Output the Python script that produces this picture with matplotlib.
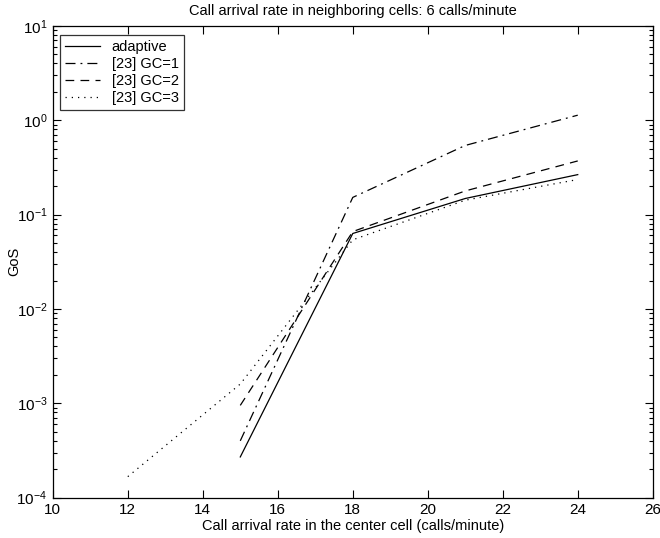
import numpy as np
import matplotlib
matplotlib.use('Agg')
import matplotlib.pyplot as plt

plt.rc('font', family='Liberation Sans', size=10)
plt.rc('mathtext', fontset='custom', rm='Liberation Sans', it='Liberation Sans:italic')

# GoS vs call arrival rate in the center cell
x_adaptive = [15, 18, 21, 24]
gos_adaptive = [2.7e-4, 0.063, 0.148, 0.265]

x_gc1 = [15, 18, 21, 24]
gos_gc1 = [4.0e-4, 0.152, 0.54, 1.13]

x_gc2 = [15, 18, 21, 24]
gos_gc2 = [9.5e-4, 0.066, 0.178, 0.37]

x_gc3 = [12, 15, 18, 21, 24]
gos_gc3 = [1.67e-4, 1.6e-3, 0.054, 0.142, 0.235]

fig = plt.figure(figsize=(6.6, 5.38), dpi=100)
ax = fig.add_axes([0.080, 0.075, 0.909, 0.877])

ax.plot(x_adaptive, gos_adaptive, '-', color='black', lw=0.9, label='adaptive')
ax.plot(x_gc1, gos_gc1, color='black', lw=0.9, dashes=(8, 4, 1.5, 4), label='[23] GC=1')
ax.plot(x_gc2, gos_gc2, color='black', lw=0.9, dashes=(7, 5), label='[23] GC=2')
ax.plot(x_gc3, gos_gc3, color='black', lw=0.9, dashes=(1, 4), label='[23] GC=3')

ax.set_yscale('log')
ax.set_xlim(10, 26)
ax.set_ylim(1e-4, 1e1)
ax.set_xticks(np.arange(10, 27, 2))
ax.tick_params(which='both', direction='in', top=True, right=True, width=0.8)
ax.tick_params(which='major', length=6, labelsize=11, pad=4)
ax.tick_params(which='minor', length=3)
for s in ax.spines.values():
    s.set_linewidth(0.9)

ax.set_xlabel('Call arrival rate in the center cell (calls/minute)', fontsize=10.5, labelpad=1)
ax.set_ylabel('GoS', fontsize=10.5)
ax.yaxis.set_label_coords(-0.052, 0.5)
ax.set_title('Call arrival rate in neighboring cells: 6 calls/minute', fontsize=10.5, pad=8)

leg = ax.legend(loc='upper left', bbox_to_anchor=(0.012, 0.98), fontsize=10.5,
                handlelength=2.4, fancybox=False, edgecolor='black', borderpad=0.35,
                labelspacing=0.2, handletextpad=0.8, borderaxespad=0)
leg.get_frame().set_linewidth(0.9)

plt.savefig('out.png', dpi=100)
